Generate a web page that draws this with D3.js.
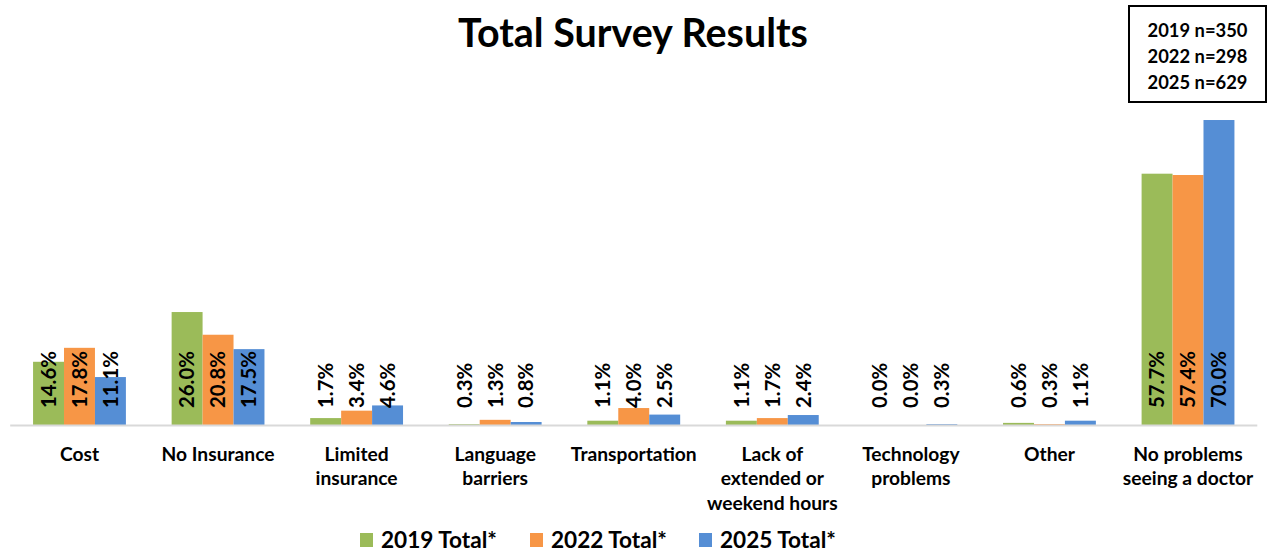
<!DOCTYPE html>
<html><head><meta charset="utf-8">
<script src="https://cdn.jsdelivr.net/npm/d3@7"></script>
<style>
html,body{margin:0;padding:0;background:#fff;}
svg{display:block;font-family:Lato,"Open Sans",sans-serif;}
</style></head>
<body>
<svg id="chart" width="1268" height="553"></svg>
<script>
const categories = [
  ["Cost"], ["No Insurance"], ["Limited","insurance"], ["Language","barriers"],
  ["Transportation"], ["Lack of","extended or","weekend hours"], ["Technology","problems"],
  ["Other"], ["No problems","seeing a doctor"]
];
const seriesNames = ["2019 Total*", "2022 Total*", "2025 Total*"];
const values2019 = [14.6, 26.0, 1.7, 0.3, 1.1, 1.1, 0.0, 0.6, 57.7];
const values2022 = [17.8, 20.8, 3.4, 1.3, 4.0, 1.7, 0.0, 0.3, 57.4];
const values2025 = [11.1, 17.5, 4.6, 0.8, 2.5, 2.4, 0.3, 1.1, 70.0];
const sampleLines = ["2019 n=350", "2022 n=298", "2025 n=629"];
const colors = ["#9BBB59", "#F79646", "#558ED5"];

const series = [values2019, values2022, values2025];
const svg = d3.select("#chart");

// font size that makes a sample string reach a given width (reference used a narrower font)
function fitSize(sample, width){
  const t = svg.append("text").attr("font-size",100).attr("font-weight","bold").text(sample);
  const w = t.node().getComputedTextLength();
  t.remove();
  return 100 * width / w;
}
const titleSize = fitSize("Total Survey Results", 350);
const catSize = fitSize("No Insurance", 113);
const valSize = fitSize("14.6%", 57);
const boxSize = fitSize("2019 n=350", 100);
const legSize = fitSize("2019 Total*", 116);

const catKeys = categories.map((c,i)=>i);
const x = d3.scaleBand().domain(catKeys).range([10.2, 1257.3]).paddingInner(0.33).paddingOuter(0.165);
const xs = d3.scaleBand().domain([0,1,2]).range([0, x.bandwidth()]);
const baseY = 425.5;
const y = d3.scaleLinear().domain([0, 80]).range([baseY, baseY - 80*4.364]);

// title
svg.append("text").attr("x", 633).attr("y", 47).attr("text-anchor","middle")
  .attr("font-size", titleSize).attr("font-weight","bold").attr("fill","#000").text("Total Survey Results");

// bars
const groups = svg.append("g").selectAll("g").data(catKeys).join("g")
  .attr("transform", d => `translate(${x(d)},0)`);
groups.selectAll("rect").data(d => series.map((s,si)=>({si, v:s[d]}))).join("rect")
  .attr("x", d => xs(d.si)).attr("width", xs.bandwidth())
  .attr("y", d => y(d.v)).attr("height", d => baseY - y(d.v))
  .attr("fill", d => colors[d.si]);
groups.selectAll("text").data(d => series.map((s,si)=>({si, v:s[d]}))).join("text")
  .attr("transform", d => `translate(${xs(d.si)+xs.bandwidth()/2},408) rotate(-90)`)
  .attr("dy","0.36em").attr("text-anchor","start")
  .attr("font-size", valSize).attr("font-weight","bold").attr("fill","#000")
  .text(d => d.v.toFixed(1) + "%");

// x axis
const xAxis = d3.axisBottom(x).tickSize(0).tickFormat("");
const ax = svg.append("g").attr("transform", `translate(0,${baseY})`).call(xAxis);
ax.select(".domain").attr("stroke","#d9d9d9").attr("stroke-width",2)
  .attr("d", `M${x.range()[0]},0H${x.range()[1]}`);
ax.selectAll(".tick").each(function(d){
  const t = d3.select(this).append("text").attr("fill","#000").attr("font-size",catSize)
    .attr("font-weight","bold").attr("text-anchor","middle").attr("font-family","Lato");
  categories[d].forEach((line,i)=>{
    t.append("tspan").attr("x",0).attr("y", 35 + i*24.5).text(line);
  });
});

// sample size box
const box = svg.append("g");
box.append("rect").attr("x",1129).attr("y",6).attr("width",137).attr("height",96)
  .attr("fill","#fff").attr("stroke","#000").attr("stroke-width",2);
box.selectAll("text").data(sampleLines).join("text")
  .attr("x",1197.5).attr("y",(d,i)=>36.5 + i*26).attr("text-anchor","middle")
  .attr("font-size",boxSize).attr("font-weight","bold").attr("fill","#000").text(d=>d);

// legend
const legX = [360, 530, 699];
const leg = svg.append("g").selectAll("g").data(seriesNames).join("g")
  .attr("transform",(d,i)=>`translate(${legX[i]},540)`);
leg.append("rect").attr("x",0).attr("y",-7).attr("width",13).attr("height",14)
  .attr("fill",(d,i)=>colors[i]);
leg.append("text").attr("x",21).attr("y",8).attr("font-size",legSize).attr("font-weight","bold")
  .attr("fill","#000").text(d=>d);
</script>
</body></html>
